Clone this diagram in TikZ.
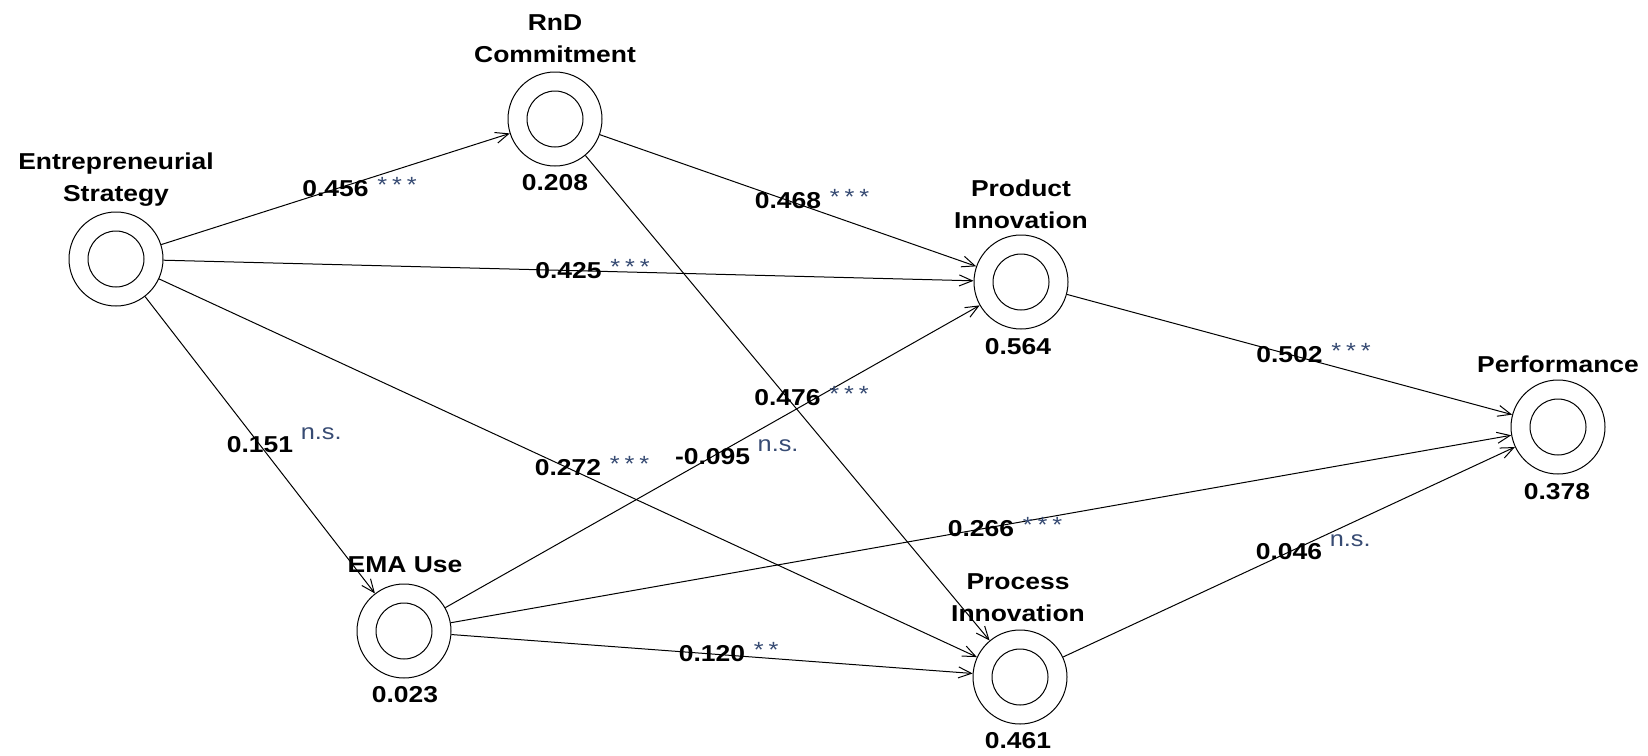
\documentclass[tikz,border=0pt]{standalone}
\usepackage{fontspec}
\setmainfont{Liberation Sans}[FakeStretch=1.15]
\usetikzlibrary{arrows.meta}
\definecolor{sigcol}{RGB}{55,75,115}
\newcommand\sigstars{*\kern5pt*\kern5pt*}
\newcommand\sigtwo{*\kern5pt*}
\begin{document}
\begin{tikzpicture}[x=1pt,y=-1pt,
  lv/.style={circle,draw,line width=1pt,minimum size=94pt,inner sep=0pt},
  ttl/.style={align=center,inner sep=0pt,font=\fontsize{23}{32}\selectfont\bfseries},
  val/.style={inner sep=0pt,font=\fontsize{23}{28}\selectfont\bfseries},
  num/.style={inner sep=0pt,font=\fontsize{23}{28}\selectfont\bfseries,text=black},
  sig/.style={inner sep=0pt,anchor=base west,text=sigcol,font=\fontsize{22}{26}\selectfont},
  conn/.style={line width=1pt,-{Straight Barb[length=13pt,width=11pt]}},
]
\useasboundingbox (0,0) rectangle (1648,755);

% latent variables
\node[lv] (es)   at (116,259) {};
\node[lv] (rnd)  at (555,119) {};
\node[lv] (pi)   at (1021,282) {};
\node[lv] (perf) at (1558,427) {};
\node[lv] (ema)  at (404,631) {};
\node[lv] (proc) at (1020,677) {};
\foreach \n in {es,rnd,pi,perf,ema,proc}
  \draw[line width=1pt] (\n.center) circle[radius=28pt];

% titles
\node[ttl] (es-t)   at (116,180)  {Entrepreneurial\\Strategy};
\node[ttl] (rnd-t)  at (555,39)   {RnD\\Commitment};
\node[ttl] (pi-t)   at (1021,204) {Product\\Innovation};
\node[ttl] (perf-t) at (1558,364) {Performance};
\node[ttl] (ema-t)  at (405,565)  {EMA Use};
\node[ttl] (proc-t) at (1018,598) {Process\\Innovation};

% R squared values
\node[val] (rnd-v)  at (555,183)  {0.208};
\node[val] (pi-v)   at (1018,347) {0.564};
\node[val] (perf-v) at (1557,492) {0.378};
\node[val] (ema-v)  at (405,695)  {0.023};
\node[val] (proc-v) at (1018,741) {0.461};

% paths
\draw[conn] (es)   -- node[num] (l1)  {0.456}  (rnd);
\draw[conn] (rnd)  -- node[num] (l2)  {0.468}  (pi);
\draw[conn] (es)   -- node[num] (l3)  {0.425}  (pi);
\draw[conn] (pi)   -- node[num] (l4)  {0.502}  (perf);
\draw[conn] (rnd)  -- node[num] (l5)  {0.476}  (proc);
\draw[conn] (es)   -- node[num] (l6)  {0.151}  (ema);
\draw[conn] (es)   -- node[num] (l7)  {0.272}  (proc);
\draw[conn] (ema)  -- node[num] (l8)  {-0.095} (pi);
\draw[conn] (ema)  -- node[num] (l9)  {0.266}  (perf);
\draw[conn] (proc) -- node[num] (l10) {0.046}  (perf);
\draw[conn] (ema)  -- node[num] (l11) {0.120}  (proc);

% significance marks
\node[sig] (s1)  at ([xshift=8pt,yshift=4pt]l1.base east)  {\sigstars};
\node[sig] (s2)  at ([xshift=8pt,yshift=4pt]l2.base east)  {\sigstars};
\node[sig] (s3)  at ([xshift=8pt,yshift=4pt]l3.base east)  {\sigstars};
\node[sig] (s4)  at ([xshift=8pt,yshift=4pt]l4.base east)  {\sigstars};
\node[sig] (s5)  at ([xshift=8pt,yshift=4pt]l5.base east)  {\sigstars};
\node[sig] (s6)  at ([xshift=7pt,yshift=13pt]l6.base east) {n.s.};
\node[sig] (s7)  at ([xshift=8pt,yshift=4pt]l7.base east)  {\sigstars};
\node[sig] (s8)  at ([xshift=7pt,yshift=13pt]l8.base east) {n.s.};
\node[sig] (s9)  at ([xshift=8pt,yshift=4pt]l9.base east)  {\sigstars};
\node[sig] (s10) at ([xshift=7pt,yshift=13pt]l10.base east) {n.s.};
\node[sig] (s11) at ([xshift=8pt,yshift=4pt]l11.base east) {\sigtwo};
\end{tikzpicture}
\end{document}
